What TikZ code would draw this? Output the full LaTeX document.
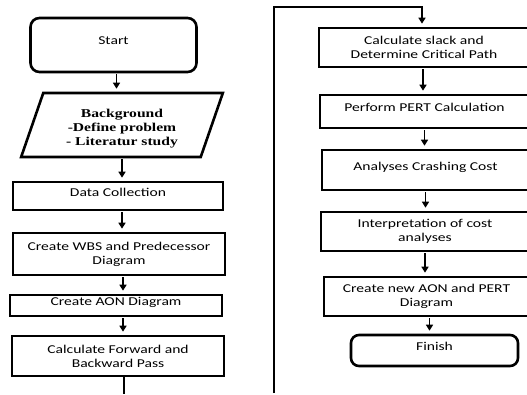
\documentclass[tikz,border=0pt]{standalone}
\usepackage{fontspec}
\setmainfont[FakeStretch=1.3]{Carlito}
\newfontfamily\bgfont[FakeStretch=1.3]{Liberation Serif}
\usetikzlibrary{shapes.geometric,arrows.meta}
\tikzset{box/.style={draw,line width=2.6pt,inner sep=0pt,align=center,font=\fontsize{12}{14}\selectfont},
         term/.style={box,rounded corners=9pt},
         io/.style={box,trapezium,trapezium left angle=71,trapezium right angle=109,
                    trapezium stretches=true,font=\bgfont\bfseries\fontsize{12}{14}\selectfont},
         up/.style={text depth=8pt},
         arr/.style={line width=1.8pt,-{Triangle[length=6pt,width=7pt]},shorten <=1pt,shorten >=3pt},
         link/.style={line width=2.6pt}}

\begin{document}
\begin{tikzpicture}[x=1pt,y=-1pt]
\clip (0,0) rectangle (527,394);
\node [term,up,minimum width=166,minimum height=54] (start) at (113.5,45) {Start};
\node [io,text height=43pt,minimum width=202,minimum height=64] (bg) at (122,125) {Background\\-Define problem\\- Literatur study};
\node [box,up,minimum width=210,minimum height=28] (data) at (118,196) {Data Collection};
\node [box,minimum width=212,minimum height=42] (wbs) at (119,254) {Create WBS and Predecessor\\Diagram};
\node [box,up,minimum width=212,minimum height=21] (aon) at (116,305.5) {Create AON Diagram};
\node [box,minimum width=212,minimum height=40] (fwd) at (118,356) {Calculate Forward and\\Backward Pass};
\node [box,minimum width=210,minimum height=39] (slack) at (424,47.5) {Calculate slack and\\Determine Critical Path};
\node [box,up,minimum width=209,minimum height=33] (pert) at (424.5,111.5) {Perform PERT Calculation};
\node [box,up,minimum width=207,minimum height=40] (crash) at (425.5,170) {Analyses Crashing Cost};
\node [box,minimum width=208,minimum height=39] (interp) at (425,231.5) {Interpretation of cost\\analyses};
\node [box,minimum width=205,minimum height=39] (newaon) at (426.5,296.5) {Create new AON and PERT\\Diagram};
\node [term,up,minimum width=167,minimum height=31,rounded corners=8pt] (finish) at (434.5,350.5) {Finish};
\coordinate (cut1) at (124,394);
\coordinate (cut2) at (274,394);
\coordinate (top) at (274,7);

\draw [arr] ([xshift=3pt]start.south) -- ([xshift=3pt]start.south |- bg.north);
\draw [arr] (bg.south) -- (bg.south |- data.north);
\draw [arr] ([xshift=4pt]data.south) -- ([xshift=4pt]data.south |- wbs.north);
\draw [arr] ([xshift=4pt]wbs.south) -- ([xshift=4pt]wbs.south |- aon.north);
\draw [arr] ([xshift=7pt]aon.south) -- ([xshift=7pt]aon.south |- fwd.north);
\draw [link] ([xshift=6pt]fwd.south) -- (cut1);
\draw [arr,line width=2.4pt] (cut2) -- (top) -| ([xshift=-2pt]slack.north);
\draw [arr] ([xshift=-1pt]slack.south) -- ([xshift=-1pt]slack.south |- pert.north);
\draw [arr] (pert.south) -- (pert.south |- crash.north);
\draw [arr] (crash.south) -- (crash.south |- interp.north);
\draw [arr] (interp.south) -- (interp.south |- newaon.north);
\draw [arr] ([xshift=3pt]newaon.south) -- ([xshift=3pt]newaon.south |- finish.north);
\end{tikzpicture}
\end{document}
